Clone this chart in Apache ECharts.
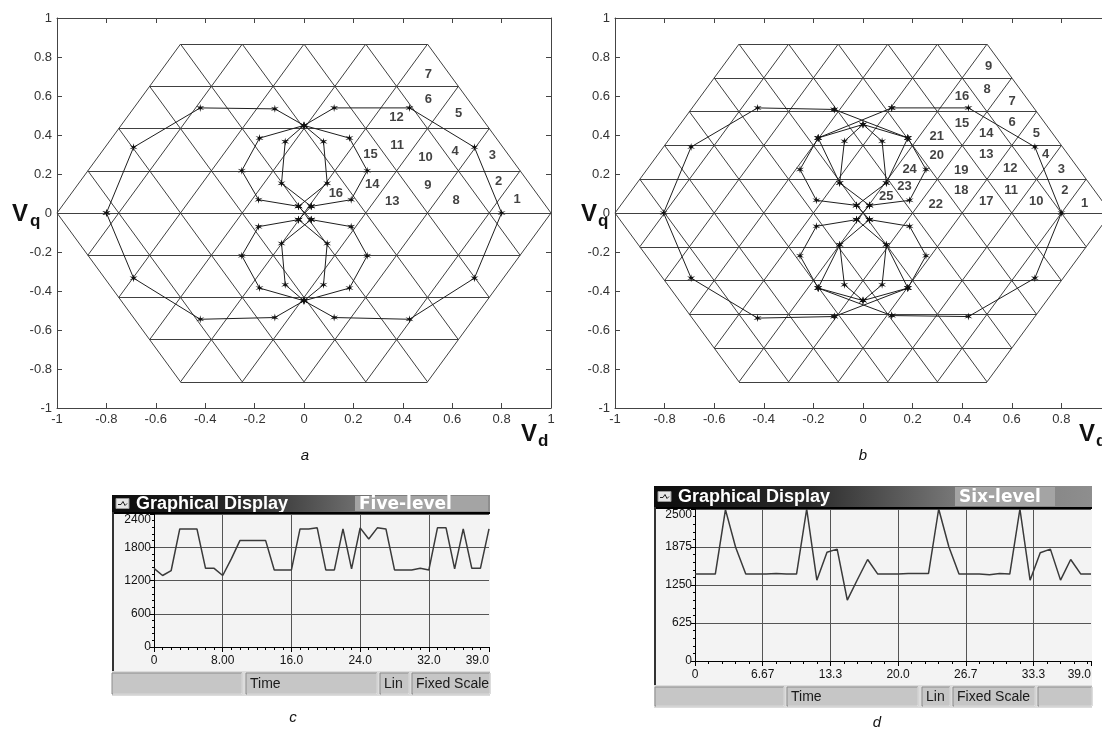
<!DOCTYPE html>
<html><head><meta charset="utf-8">
<script src="https://cdn.jsdelivr.net/npm/echarts@6/dist/echarts.min.js"></script>
<style>html,body{margin:0;padding:0;background:#fff}#c{width:1102px;height:733px}</style>
</head><body><div id="c"></div>
<script>
// ---------------- DATA ----------------
const levelsA = 5;   // five-level inverter space-vector hexagon
const levelsB = 6;   // six-level inverter space-vector hexagon

// trajectory polylines, panel a (Vd, Vq)
const trajA = [
  [[-0.80,0],[-0.69,0.337],[-0.42,0.539],[-0.118,0.534],[0,0.449],[0.122,0.539],[0.427,0.539],[0.69,0.337],[0.80,0],[0.69,-0.334],[0.427,-0.545],[0.122,-0.536],[0,-0.45],[-0.118,-0.536],[-0.42,-0.545],[-0.69,-0.334],[-0.80,0]],
  [[-0.022,0.034],[-0.184,0.068],[-0.252,0.217],[-0.18,0.384],[0,0.449],[0.184,0.384],[0.256,0.217],[0.191,0.068],[0.029,0.034]],
  [[0,0.449],[-0.076,0.366],[-0.091,0.152],[0.029,0.034]],
  [[0,0.449],[0.079,0.366],[0.094,0.152],[-0.022,0.034]],
  [[-0.022,-0.034],[-0.184,-0.07],[-0.252,-0.219],[-0.18,-0.385],[0,-0.45],[0.184,-0.385],[0.256,-0.219],[0.191,-0.07],[0.029,-0.034]],
  [[0,-0.45],[-0.076,-0.368],[-0.091,-0.156],[0.029,-0.034]],
  [[0,-0.45],[0.079,-0.368],[0.094,-0.156],[-0.022,-0.034]],
  [[-0.022,0.034],[0.029,-0.034]],
  [[0.029,0.034],[-0.022,-0.034]]
];
// trajectory polylines, panel b
const trajB = [
  [[-0.116,0.531],[-0.425,0.539],[-0.693,0.339],[-0.804,0],[-0.693,-0.334],[-0.425,-0.539],[-0.116,-0.531]],
  [[0.116,0.539],[0.425,0.539],[0.693,0.339],[0.80,0],[0.693,-0.334],[0.425,-0.531],[0.116,-0.526]],
  [[-0.116,0.531],[0.181,0.385]],
  [[0.116,0.539],[-0.181,0.385]],
  [[-0.181,0.385],[0,0.454],[0.181,0.385]],
  [[-0.181,0.385],[-0.254,0.223],[-0.188,0.065],[-0.026,0.039]],
  [[0.181,0.385],[0.254,0.223],[0.188,0.065],[0.026,0.039]],
  [[0,0.454],[-0.075,0.368],[-0.094,0.154],[0.026,0.039]],
  [[0,0.454],[0.077,0.368],[0.094,0.154],[-0.026,0.039]],
  [[-0.181,0.385],[-0.094,0.154]],
  [[0.181,0.385],[0.094,0.154]],
  [[-0.116,-0.531],[0.181,-0.385]],
  [[0.116,-0.526],[-0.181,-0.385]],
  [[-0.181,-0.385],[0,-0.449],[0.181,-0.385]],
  [[-0.181,-0.385],[-0.254,-0.219],[-0.188,-0.068],[-0.026,-0.034]],
  [[0.181,-0.385],[0.254,-0.219],[0.188,-0.068],[0.026,-0.034]],
  [[0,-0.449],[-0.075,-0.368],[-0.094,-0.163],[0.026,-0.034]],
  [[0,-0.449],[0.077,-0.368],[0.094,-0.163],[-0.026,-0.034]],
  [[-0.181,-0.385],[-0.094,-0.163]],
  [[0.181,-0.385],[0.094,-0.163]],
  [[-0.026,0.039],[0.026,-0.034]],
  [[0.026,0.039],[-0.026,-0.034]]
];
// region numbers [label, Vd, Vq]
const regionsA = [[7,0.504,0.711],[6,0.504,0.582],[5,0.626,0.509],[12,0.374,0.488],[11,0.377,0.346],[10,0.492,0.286],[4,0.612,0.317],[3,0.763,0.295],[15,0.269,0.298],[14,0.276,0.149],[9,0.501,0.140],[2,0.788,0.163],[16,0.129,0.101],[13,0.357,0.058],[8,0.616,0.067],[1,0.863,0.068]];
const regionsB = [[9,0.507,0.753],[8,0.50,0.634],[16,0.399,0.599],[7,0.601,0.574],[15,0.399,0.457],[6,0.601,0.467],[14,0.497,0.406],[5,0.699,0.406],[21,0.297,0.394],[4,0.736,0.300],[20,0.297,0.296],[13,0.497,0.300],[24,0.188,0.223],[19,0.396,0.217],[12,0.594,0.231],[3,0.80,0.223],[23,0.167,0.137],[25,0.094,0.086],[18,0.396,0.115],[11,0.597,0.115],[2,0.814,0.115],[22,0.293,0.043],[17,0.497,0.060],[10,0.699,0.060],[1,0.894,0.051]];

// panel c (five-level) and d (six-level) time traces
const timeC = [0,1,2,3,4,5,6,7,8,9,10,11,12,13,14,15,16,17,18,19,20,21,22,23,24,25,26,27,28,29,30,31,32,33,34,35,36,37,38,39];
const valuesC = [1420,1290,1380,2130,2130,2130,1420,1420,1290,1590,1920,1920,1920,1920,1390,1390,1390,2130,2130,2150,1390,1390,2130,1410,2150,1950,2150,2130,1390,1390,1390,1420,1390,2150,2150,1410,2130,1420,1420,2130];
const timeD = [0,1,2,3,4,5,6,7,8,9,10,11,12,13,14,15,16,17,18,19,20,21,22,23,24,25,26,27,28,29,30,31,32,33,34,35,36,37,38,39];
const valuesD = [1430,1430,1430,2490,1870,1430,1430,1430,1440,1430,1430,2500,1330,1790,1840,1000,1340,1670,1430,1430,1430,1440,1440,1440,2500,1880,1430,1430,1430,1420,1440,1430,2500,1330,1780,1840,1330,1670,1430,1430];
const xLabelsC = ['0','8.00','16.0','24.0','32.0','39.0'];
const xLabelsD = ['0','6.67','13.3','20.0','26.7','33.3','39.0'];
const yLabelsC = ['0','600','1200','1800','2400'];
const yLabelsD = ['0','625','1250','1875','2500'];

// ---------------- HELPERS ----------------
function hexSegments(n){
  const m=n-1, s3=Math.sqrt(3), segs=[];
  for(let k=-m;k<=m;k++){
    const c=k*(s3/2)/m, hw=1-Math.abs(c)/s3;
    const base=[[-hw,c],[hw,c]];
    for(const ang of [0,60,120]){
      const t=ang*Math.PI/180, co=Math.cos(t), si=Math.sin(t);
      segs.push(base.map(([x,y])=>[x*co-y*si, x*si+y*co]));
    }
  }
  return segs;
}
const STAR=(function(){let p='';for(let i=0;i<12;i++){const a=(i*30-90)*Math.PI/180;const r=i%2===0?10:3;p+=(i===0?'M':'L')+(r*Math.cos(a)).toFixed(2)+','+(r*Math.sin(a)).toFixed(2)+' ';}return 'path://'+p+'Z';})();
const FF='"Liberation Sans", Arial, sans-serif';

function boxAxes(gi){
  const common={gridIndex:gi,type:'value',min:-1,max:1,interval:0.2,
    axisLine:{show:true,onZero:false,lineStyle:{color:'#444',width:1}},
    axisTick:{show:true,inside:true,length:5,lineStyle:{color:'#444'}},
    splitLine:{show:false}};
  return {
    x:[Object.assign({},common,{position:'bottom',axisLabel:{show:true,color:'#333',fontSize:13,margin:5,fontFamily:FF,showMinLabel:true,showMaxLabel:true}}),
       Object.assign({},common,{position:'top',axisLabel:{show:false}})],
    y:[Object.assign({},common,{position:'left',axisLabel:{show:true,color:'#333',fontSize:13,margin:5,fontFamily:FF,showMinLabel:true,showMaxLabel:true}}),
       Object.assign({},common,{position:'right',axisLabel:{show:false}})]
  };
}
const axA=boxAxes(0), axB=boxAxes(1);

function panelSeries(xi,yi,levels,traj,regions){
  const s=[];
  s.push({type:'lines',coordinateSystem:'cartesian2d',xAxisIndex:xi,yAxisIndex:yi,polyline:false,silent:true,z:2,
    lineStyle:{color:'#404040',width:1,opacity:1},data:hexSegments(levels).map(c=>({coords:c}))});
  traj.forEach(p=>s.push({type:'line',xAxisIndex:xi,yAxisIndex:yi,data:p,symbol:STAR,symbolSize:8,showSymbol:true,z:3,silent:true,
    lineStyle:{color:'#1e1e1e',width:1},itemStyle:{color:'#111'}}));
  s.push({type:'scatter',xAxisIndex:xi,yAxisIndex:yi,symbolSize:1,z:4,silent:true,itemStyle:{color:'rgba(0,0,0,0)'},
    label:{show:true,position:'inside',formatter:'{b}',fontWeight:'bold',fontSize:13,color:'#111',fontFamily:FF},
    data:regions.map(([n,x,y])=>({name:String(n),value:[x,y]}))});
  return s;
}

function fixedAxisX(gi,max,interval,labels,minorSplit){
  const colors=labels.map((l,i)=>i===labels.length-1?'rgba(0,0,0,0)':'#555');
  return {gridIndex:gi,type:'value',min:0,max:max,interval:interval,
    axisLine:{show:true,onZero:false,lineStyle:{color:'#000',width:1}},
    axisTick:{show:true,length:5,lineStyle:{color:'#000'}},
    minorTick:{show:true,splitNumber:minorSplit,length:3,lineStyle:{color:'#000'}},
    axisLabel:{formatter:(v,i)=>labels[i]!==undefined?labels[i]:'',fontSize:12,color:'#111',margin:8,fontFamily:FF,showMaxLabel:true,alignMaxLabel:'right'},
    splitLine:{show:true,lineStyle:{color:colors,width:1}}};
}
function fixedAxisY(gi,max,interval,labels){
  const last=labels.length-1;
  return {gridIndex:gi,type:'value',min:0,max:max,interval:interval,
    axisLine:{show:true,onZero:false,lineStyle:{color:'#000',width:1}},
    axisTick:{show:true,length:4,lineStyle:{color:'#000'}},
    minorTick:{show:true,splitNumber:5,length:2,lineStyle:{color:'#000'}},
    axisLabel:{formatter:(v,i)=>labels[i]===undefined?'':(i===last?'{t|'+labels[i]+'}':labels[i]),fontSize:12,color:'#111',margin:3,fontFamily:FF,
      rich:{t:{fontSize:12,color:'#111',fontFamily:FF,padding:[11,0,0,0]}}},
    splitLine:{show:true,lineStyle:{color:'#555',width:1}}};
}

// ---------- window chrome (graphic) ----------
function headerGrad(){return {type:'linear',x:0,y:0,x2:1,y2:0,colorStops:[{offset:0,color:'#0c0c0c'},{offset:0.35,color:'#2a2a2a'},{offset:0.7,color:'#7a7a7a'},{offset:1,color:'#8e8e8e'}]};}
function windowChrome(o){
  const g=[];
  g.push({type:'rect',shape:{x:o.x,y:o.hy+o.hh,width:o.w,height:o.sy-(o.hy+o.hh)},style:{fill:'#f3f3f3'},z:-10});
  g.push({type:'rect',shape:{x:o.x,y:o.hy,width:o.w,height:o.hh},style:{fill:headerGrad()},z:-5});
  g.push({type:'rect',shape:{x:o.lx,y:o.hy+1,width:o.lw,height:o.hh-2},style:{fill:'#a4a4a4'},z:-4});
  g.push({type:'rect',shape:{x:o.x+4,y:o.hy+o.hh/2-5,width:13,height:10},style:{fill:'#e6e6e6',stroke:'#999',lineWidth:1},z:-3});
  g.push({type:'polyline',shape:{points:[[o.x+6,o.hy+o.hh/2+1],[o.x+9,o.hy+o.hh/2+1],[o.x+11,o.hy+o.hh/2-2],[o.x+13,o.hy+o.hh/2+2],[o.x+15,o.hy+o.hh/2]]},style:{stroke:'#222',lineWidth:1,fill:null},z:-2});
  g.push({type:'text',x:o.x+24,y:o.hy+o.hh/2+1,style:{text:'Graphical Display',font:'bold 18px "Liberation Sans", Arial, sans-serif',fill:'#fff',verticalAlign:'middle'},z:-1});
  g.push({type:'text',x:o.lx+4,y:o.hy+o.hh/2+1,style:{text:o.level,font:'bold 17px "DejaVu Sans", sans-serif',fill:'#fff',verticalAlign:'middle'},z:-1});
  g.push({type:'rect',shape:{x:o.x+1,y:o.hy+o.hh,width:o.w-1,height:2},style:{fill:'#000'},z:-1});
  g.push({type:'rect',shape:{x:o.x,y:o.hy+o.hh,width:2,height:o.sy-(o.hy+o.hh)},style:{fill:'#333'},z:-1});
  g.push({type:'rect',shape:{x:o.x,y:o.sy,width:o.w,height:o.sh},style:{fill:'#dcdcdc'},z:-10});
  o.cells.forEach(([x1,x2,t])=>{
    g.push({type:'rect',shape:{x:x1,y:o.sy+2,width:x2-x1,height:o.sh-4},style:{fill:'#c6c6c6',stroke:'#8c8c8c',lineWidth:1},z:-6});
    g.push({type:'polyline',shape:{points:[[x1+1,o.sy+o.sh-2],[x2,o.sy+o.sh-2],[x2,o.sy+2]]},style:{stroke:'#f4f4f4',lineWidth:1,fill:null},z:-5});
    if(t) g.push({type:'text',x:x1+4,y:o.sy+o.sh/2+1,style:{text:t,font:'14px "Liberation Sans", Arial, sans-serif',fill:'#1a1a1a',verticalAlign:'middle'},z:-4});
  });
  return g;
}
const chromeC=windowChrome({x:112,w:378,hy:495,hh:17,lx:355,lw:133,level:'Five-level',sy:671,sh:25,
  cells:[[112,242,''],[246,377,'Time'],[380,409,'Lin'],[412,490,'Fixed Scale']]});
const chromeD=windowChrome({x:654,w:438,hy:486,hh:21,lx:955,lw:100,level:'Six-level',sy:685,sh:23,
  cells:[[655,784,''],[787,918,'Time'],[922,950,'Lin'],[953,1035,'Fixed Scale'],[1038,1092,'']]});

function txt(x,y,t,font,align){return {type:'text',x:x,y:y,style:{text:t,font:font,fill:'#111',align:align||'left',verticalAlign:'bottom'},z:10};}
const bigV='bold 24px "Liberation Sans", Arial, sans-serif', subF='bold 17px "Liberation Sans", Arial, sans-serif', capF='italic 15px "Liberation Sans", Arial, sans-serif';
const labels=[
  txt(12,226,'V',bigV), txt(30,230,'q',subF),
  txt(581,226,'V',bigV), txt(598,230,'q',subF),
  txt(521,446,'V',bigV), txt(538,450,'d',subF),
  txt(1079,446,'V',bigV), txt(1096,450,'d',subF),
  txt(305,463,'a',capF,'center'), txt(863,463,'b',capF,'center'),
  txt(293,725,'c',capF,'center'), txt(877,730,'d',capF,'center')
];

// ---------------- OPTION ----------------
const chart=echarts.init(document.getElementById('c'),null,{renderer:'canvas'});
const option={
  backgroundColor:'#fff',animation:false,
  grid:[
    {left:57,top:18,width:494,height:390,outerBoundsMode:'none'},
    {left:615,top:18,width:496,height:390,outerBoundsMode:'none'},
    {left:154,top:514,width:335,height:133,outerBoundsMode:'none'},
    {left:695,top:509,width:396,height:152,outerBoundsMode:'none'}
  ],
  xAxis:[axA.x[0],axA.x[1],axB.x[0],axB.x[1],fixedAxisX(2,39,8,xLabelsC,8),fixedAxisX(3,39,20/3,xLabelsD,5)],
  yAxis:[axA.y[0],axA.y[1],axB.y[0],axB.y[1],fixedAxisY(2,2400,600,yLabelsC),fixedAxisY(3,2500,625,yLabelsD)],
  series:[].concat(
    panelSeries(0,0,levelsA,trajA,regionsA),
    panelSeries(2,2,levelsB,trajB,regionsB),
    [{type:'line',xAxisIndex:4,yAxisIndex:4,data:timeC.map((t,i)=>[t,valuesC[i]]),symbol:'none',silent:true,lineStyle:{color:'#3a3a3a',width:1.5}},
     {type:'line',xAxisIndex:5,yAxisIndex:5,data:timeD.map((t,i)=>[t,valuesD[i]]),symbol:'none',silent:true,lineStyle:{color:'#3a3a3a',width:1.5}}]
  ),
  graphic:[].concat(chromeC,chromeD,labels)
};
chart.setOption(option);
</script></body></html>
